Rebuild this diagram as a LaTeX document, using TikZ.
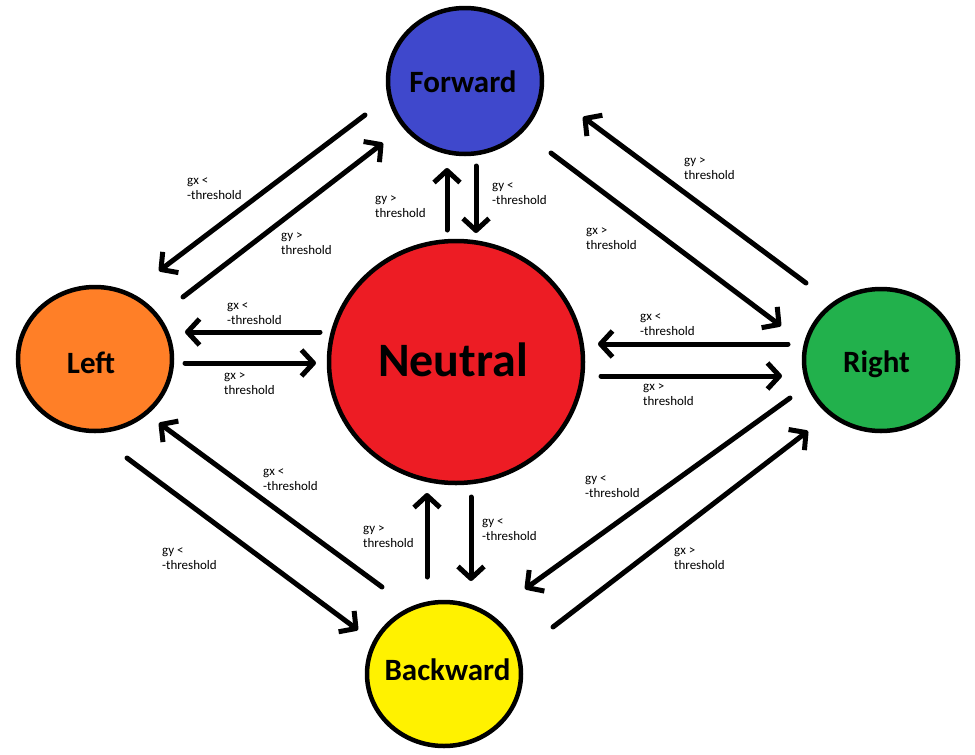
\documentclass[tikz,border=0pt]{standalone}
\usepackage{fontspec}
\setmainfont{Carlito}
\usetikzlibrary{shapes.geometric,arrows.meta}
\definecolor{fwdblue}{HTML}{3F48CC}
\definecolor{neured}{HTML}{ED1C24}
\definecolor{leftorange}{HTML}{FF7F27}
\definecolor{rightgreen}{HTML}{22B14C}
\definecolor{backyellow}{HTML}{FFF200}
% centred text that does not widen the ellipse; #1 = shift right, #2 = shift down
\newcommand{\statetext}[3]{\makebox[0pt]{\hspace*{#1}\raisebox{-#2}{#3}\hspace*{-#1}}}
\tikzset{
  state/.style={ellipse, draw=black, line width=4.5pt, inner sep=0pt,
    minimum width=154pt, minimum height=146pt, text height=20pt, text depth=0pt,
    font=\bfseries\fontsize{31}{31}\selectfont},
  arr/.style={line width=5pt, line cap=round,
    -{Straight Barb[length=12pt,width=26pt,line join=round]}},
  lbl/.style={anchor=north west, inner sep=0pt, align=left,
    font=\fontsize{13}{15}\selectfont}
}
\begin{document}
\begin{tikzpicture}[x=1pt,y=-1pt]
\useasboundingbox[fill=white] (0,0) rectangle (975,755);
% nodes
\node[state, fill=fwdblue, minimum height=146pt] (F) at (465,81) {\statetext{-2pt}{1pt}{Forward}};
\node[state, fill=neured, minimum width=254pt, minimum height=242pt, text height=31pt,
      font=\bfseries\fontsize{48}{48}\selectfont] (N) at (456,362) {\statetext{-3pt}{-1pt}{Neutral}};
\node[state, fill=leftorange, minimum height=144pt] (L) at (95,359) {\statetext{-4pt}{4pt}{Left}};
\node[state, fill=rightgreen, minimum height=142pt] (R) at (881,360) {\statetext{-4.5pt}{2.5pt}{Right}};
\node[state, fill=backyellow, minimum height=144pt] (B) at (444,674) {\statetext{3.5pt}{-4pt}{Backward}};
% connectors
\draw[arr] ([shift={(-100,34)}]F.center) -- ([shift={(64,-88)}]L.center);
\draw[arr] ([shift={(88,-62)}]L.center) -- ([shift={(-82,62)}]F.center);
\draw[arr] ([shift={(-9,-132)}]N.center) -- ([shift={(-18,87)}]F.center);
\draw[arr] ([shift={(11,85)}]F.center) -- ([shift={(20,-129)}]N.center);
\draw[arr] ([shift={(86,72)}]F.center) -- ([shift={(-100,-34)}]R.center);
\draw[arr] ([shift={(-75,-77)}]R.center) -- ([shift={(118,36)}]F.center);
\draw[arr] ([shift={(-136,-30)}]N.center) -- ([shift={(90,-27)}]L.center);
\draw[arr] ([shift={(90,4)}]L.center) -- ([shift={(-140,1)}]N.center);
\draw[arr] ([shift={(-93,-16)}]R.center) -- ([shift={(142,-18)}]N.center);
\draw[arr] ([shift={(145,14)}]N.center) -- ([shift={(-99,16)}]R.center);
\draw[arr] ([shift={(-62,-87)}]B.center) -- ([shift={(64,64)}]L.center);
\draw[arr] ([shift={(32,99)}]L.center) -- ([shift={(-86,-44)}]B.center);
\draw[arr] ([shift={(-17,-97)}]B.center) -- ([shift={(-29,131)}]N.center);
\draw[arr] ([shift={(15,135)}]N.center) -- ([shift={(27,-93)}]B.center);
\draw[arr] ([shift={(-91,38)}]R.center) -- ([shift={(81,-85)}]B.center);
\draw[arr] ([shift={(109,-47)}]B.center) -- ([shift={(-73,71)}]R.center);
% labels
\node[lbl] (l1) at (187,177) {gx <\\-threshold};
\node[lbl] (l2) at (281,232) {gy >\\threshold};
\node[lbl] (l3) at (375,195) {gy >\\threshold};
\node[lbl] (l4) at (492,182) {gy <\\-threshold};
\node[lbl] (l5) at (586,227) {gx >\\threshold};
\node[lbl] (l6) at (684,157) {gy >\\threshold};
\node[lbl] (l7) at (227,302) {gx <\\-threshold};
\node[lbl] (l8) at (224,372) {gx >\\threshold};
\node[lbl] (l9) at (640,313) {gx <\\-threshold};
\node[lbl] (l10) at (643,383) {gx >\\threshold};
\node[lbl] (l11) at (263,468) {gx <\\-threshold};
\node[lbl] (l12) at (162,547) {gy <\\-threshold};
\node[lbl] (l13) at (363,525) {gy >\\threshold};
\node[lbl] (l14) at (482,518) {gy <\\-threshold};
\node[lbl] (l15) at (585,475) {gy <\\-threshold};
\node[lbl] (l16) at (674,547) {gx >\\threshold};
\end{tikzpicture}
\end{document}
